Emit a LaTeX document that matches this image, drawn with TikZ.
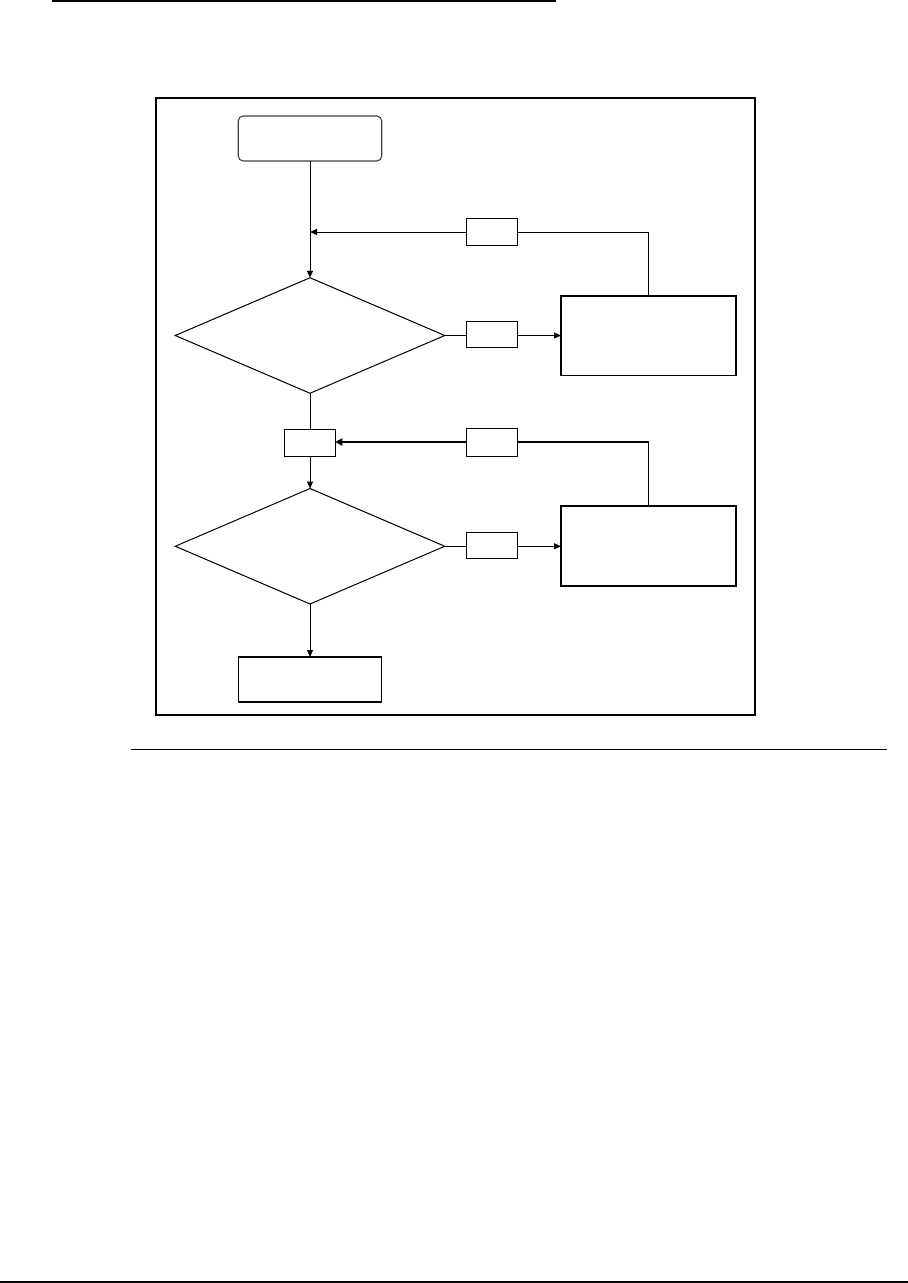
\documentclass[tikz,border=0pt]{standalone}
\usetikzlibrary{arrows.meta,shapes.geometric}
\begin{document}
\begin{tikzpicture}[x=1pt,y=-1pt,
  ln/.style={line width=1pt},
  arr/.style={ln,-{Triangle[length=7pt,width=6pt]}},
  thickarr/.style={line width=2pt,-{Triangle[length=7pt,width=7pt]}},
  box/.style={draw,line width=1.1pt,rectangle,inner sep=0pt,outer sep=0pt,minimum width=175pt,minimum height=80pt},
  termbox/.style={draw,line width=1.1pt,rectangle,inner sep=0pt,outer sep=0pt,minimum width=143.5pt,minimum height=45pt},
  lbl/.style={draw,line width=1pt,rectangle,inner sep=0pt,outer sep=0pt,minimum width=51pt,minimum height=26.5pt},
  decision/.style={draw,line width=1pt,diamond,inner sep=0pt,outer sep=0pt,minimum width=269.5pt,minimum height=115.5pt}]
\useasboundingbox (0,0) rectangle (908,1283);
% page rules
\draw[line width=2.2pt] (52,1) -- (556,1);
\draw[line width=1.1pt] (130.5,749.5) -- (887,749.5);
\draw[line width=1.6pt] (0,1282.2) -- (908,1282.2);
% frame
\draw[line width=2pt] (155.5,98) rectangle (755,715);
% nodes
\node[termbox,draw=black!75,rounded corners=5pt] (start) at (310,138.5) {};
\node[decision] (d1) at (310,335.5) {};
\node[lbl] (lA) at (492,232) {};
\node[lbl] (lB) at (492,334.5) {};
\node[box,minimum height=79.5pt] (r1) at (648.5,335.75) {};
\node[lbl,minimum width=50.5pt,minimum height=27pt] (mid) at (310,442.5) {};
\node[lbl,minimum height=27.5pt] (lC) at (492,442.25) {};
\node[decision] (d2) at (310,546.25) {};
\node[lbl] (lD) at (492,545.25) {};
\node[box] (r2) at (648.5,546) {};
\node[termbox] (end) at (310,679.5) {};
\coordinate (j1) at (310,232);
\coordinate (k1) at (648,232);
\coordinate (k2) at (648,442);
% connectors
\draw[arr] (start.south) -- (d1.north);
\draw[arr] (lA.west) -- (j1);
\draw[ln] (lA.east) -- (k1) -- (k1 |- r1.north);
\draw[ln] (d1.east) -- (lB.west |- d1.east);
\draw[arr] (lB.east |- d1.east) -- (r1.west |- d1.east);
\draw[ln] (d1.south) -- (mid.north);
\draw[arr] (mid.south) -- (d2.north);
\draw[thickarr] (lC.west |- k2) -- (mid.east |- k2);
\draw[line width=2pt] (lC.east |- k2) -- (k2);
\draw[ln] (648,441) -- (k2 |- r2.north);
\draw[ln] (d2.east) -- (lD.west |- d2.east);
\draw[arr] (lD.east |- d2.east) -- (r2.west |- d2.east);
\draw[arr] (d2.south) -- (end.north);
\end{tikzpicture}
\end{document}
